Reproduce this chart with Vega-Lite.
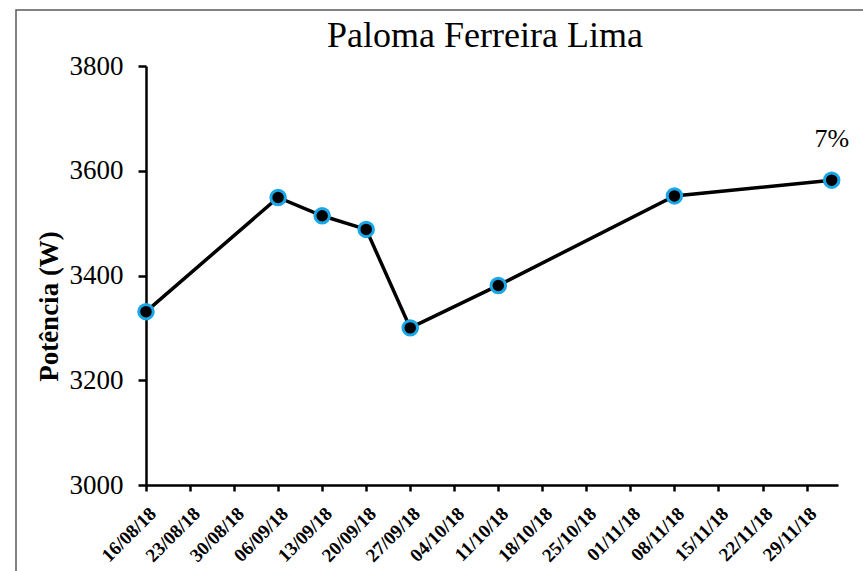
{
  "$schema": "https://vega.github.io/schema/vega-lite/v6.json",
  "autosize": "none",
  "width": 870,
  "height": 580,
  "padding": {"left": 16, "top": 10, "right": 0, "bottom": 0},
  "background": "white",
  "config": {
    "view": {"stroke": "#595959", "strokeWidth": 1.5},
    "font": "Liberation Serif"
  },
  "title": {
    "text": "Paloma Ferreira Lima",
    "font": "Liberation Serif",
    "fontSize": 36,
    "fontWeight": "normal",
    "color": "black",
    "anchor": "middle",
    "baseline": "alphabetic",
    "offset": 0,
    "dx": 34,
    "dy": 73
  },
  "data": {
    "values": [
      {"data": "2018-08-16", "potencia": 3331, "rotulo": ""},
      {"data": "2018-09-06", "potencia": 3549, "rotulo": ""},
      {"data": "2018-09-13", "potencia": 3514, "rotulo": ""},
      {"data": "2018-09-20", "potencia": 3488, "rotulo": ""},
      {"data": "2018-09-27", "potencia": 3300, "rotulo": ""},
      {"data": "2018-10-11", "potencia": 3381, "rotulo": ""},
      {"data": "2018-11-08", "potencia": 3552, "rotulo": ""},
      {"data": "2018-12-03", "potencia": 3582, "rotulo": "7%"}
    ]
  },
  "encoding": {
    "x": {
      "field": "data",
      "type": "temporal",
      "scale": {
        "type": "utc",
        "domain": [
          {"year": 2018, "month": 8, "date": 16, "utc": true},
          {"year": 2018, "month": 12, "date": 4, "utc": true}
        ],
        "range": [130, 822]
      },
      "axis": {
        "title": null,
        "offset": -105,
        "grid": false,
        "values": [
          {"year": 2018, "month": 8, "date": 16, "utc": true},
          {"year": 2018, "month": 8, "date": 23, "utc": true},
          {"year": 2018, "month": 8, "date": 30, "utc": true},
          {"year": 2018, "month": 9, "date": 6, "utc": true},
          {"year": 2018, "month": 9, "date": 13, "utc": true},
          {"year": 2018, "month": 9, "date": 20, "utc": true},
          {"year": 2018, "month": 9, "date": 27, "utc": true},
          {"year": 2018, "month": 10, "date": 4, "utc": true},
          {"year": 2018, "month": 10, "date": 11, "utc": true},
          {"year": 2018, "month": 10, "date": 18, "utc": true},
          {"year": 2018, "month": 10, "date": 25, "utc": true},
          {"year": 2018, "month": 11, "date": 1, "utc": true},
          {"year": 2018, "month": 11, "date": 8, "utc": true},
          {"year": 2018, "month": 11, "date": 15, "utc": true},
          {"year": 2018, "month": 11, "date": 22, "utc": true},
          {"year": 2018, "month": 11, "date": 29, "utc": true}
        ],
        "labelExpr": "utcFormat(datum.value, '%d/%m/%y')",
        "labelAngle": -45,
        "labelFont": "Liberation Serif",
        "labelFontSize": 19,
        "labelFontWeight": "bold",
        "labelColor": "black",
        "labelPadding": 13,
        "labelOverlap": false,
        "labelFlush": false,
        "domainColor": "black",
        "domainWidth": 2.5,
        "tickColor": "black",
        "tickWidth": 2.5,
        "tickSize": 6
      }
    },
    "y": {
      "field": "potencia",
      "type": "quantitative",
      "scale": {"domain": [3000, 3800], "range": [475, 56], "zero": false, "nice": false},
      "axis": {
        "title": "Potência (W)",
        "offset": -130,
        "grid": false,
        "values": [3000, 3200, 3400, 3600, 3800],
        "format": "d",
        "labelFont": "Liberation Serif",
        "labelFontSize": 27,
        "labelColor": "black",
        "labelPadding": 15,
        "labelFlush": false,
        "domainColor": "black",
        "domainWidth": 2.5,
        "tickColor": "black",
        "tickWidth": 2.5,
        "tickSize": 8,
        "titleFont": "Liberation Serif",
        "titleFontSize": 27,
        "titleFontWeight": "bold",
        "titleColor": "black",
        "titleAngle": -90,
        "titleAlign": "center",
        "titleBaseline": "alphabetic",
        "titleX": -89,
        "titleY": 296
      }
    }
  },
  "layer": [
    {
      "mark": {"type": "line", "color": "black", "strokeWidth": 3.5}
    },
    {
      "mark": {"type": "point", "shape": "circle", "filled": true, "fill": "black", "stroke": "#1AA7E8", "strokeWidth": 3, "size": 210, "opacity": 1}
    },
    {
      "mark": {"type": "text", "font": "Liberation Serif", "fontSize": 26, "color": "black", "dy": -33, "baseline": "alphabetic", "align": "center"},
      "encoding": {"text": {"field": "rotulo"}}
    }
  ]
}
